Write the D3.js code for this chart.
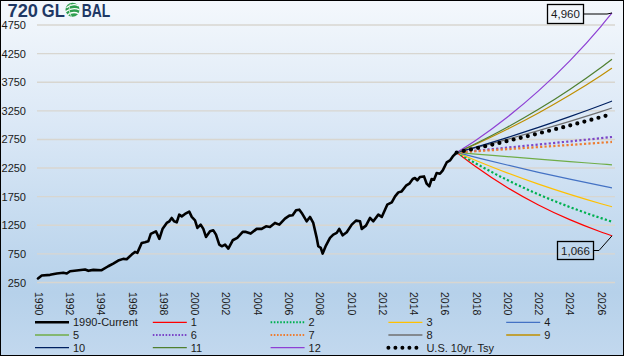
<!DOCTYPE html>
<html><head><meta charset="utf-8">
<script src="https://cdn.jsdelivr.net/npm/d3@7"></script>
<style>html,body{margin:0;padding:0;background:#fff}svg{display:block}</style>
</head><body>
<script>
// ---------- data ----------
const histYears = [1990.00,1990.24,1990.77,1991.20,1991.62,1991.84,1992.05,1992.47,1993.01,1993.22,1993.54,1994.07,1994.49,1994.81,1995.13,1995.45,1995.67,1995.99,1996.20,1996.35,1996.63,1996.84,1997.05,1997.21,1997.54,1997.76,1997.97,1998.23,1998.40,1998.55,1998.70,1998.87,1999.03,1999.19,1999.40,1999.67,1999.83,2000.04,2000.19,2000.40,2000.57,2000.74,2001.00,2001.21,2001.38,2001.59,2001.75,2001.96,2002.17,2002.45,2002.74,2003.09,2003.30,2003.60,2003.98,2004.30,2004.58,2004.83,2005.15,2005.43,2005.79,2006.07,2006.28,2006.50,2006.71,2006.86,2007.18,2007.39,2007.60,2007.82,2007.92,2008.08,2008.20,2008.41,2008.67,2008.88,2009.10,2009.26,2009.48,2009.74,2010.06,2010.33,2010.59,2010.70,2010.97,2011.23,2011.44,2011.76,2011.98,2012.33,2012.62,2012.83,2013.04,2013.25,2013.53,2013.74,2013.96,2014.10,2014.25,2014.42,2014.68,2014.85,2015.02,2015.17,2015.32,2015.49,2015.70,2015.88,2016.13,2016.34,2016.52,2016.77];
const histValues = [320,372,384,407,419,407,447,459,477,454,471,465,534,581,634,663,656,738,785,768,942,953,970,1099,1145,1012,1190,1291,1319,1378,1319,1302,1436,1406,1448,1488,1396,1337,1204,1262,1187,1047,1145,1162,1087,913,883,913,843,988,1030,1134,1134,1105,1187,1187,1232,1221,1291,1262,1366,1418,1424,1511,1523,1466,1319,1396,1291,1030,883,855,756,895,1030,1087,1117,1187,1075,1127,1262,1331,1319,1187,1244,1378,1319,1436,1396,1610,1650,1755,1825,1842,1942,1977,2059,2076,2034,2093,2104,1977,1929,2059,2046,2163,2151,2209,2348,2383,2453,2522];

const projYears = [2016.77, 2018, 2020, 2022, 2024, 2026, 2026.7];
const s1  = [2522, 2272, 1909, 1605, 1348, 1133, 1066];
const s2  = [2522, 2330, 2042, 1790, 1569, 1375, 1313];
const s3  = [2522, 2382, 2165, 1969, 1790, 1627, 1574];
const s4  = [2522, 2438, 2303, 2176, 2056, 1943, 1905];
const s5  = [2522, 2495, 2450, 2406, 2363, 2321, 2306];
const s6  = [2522, 2553, 2607, 2661, 2716, 2773, 2793];
const s7  = [2522, 2544, 2580, 2617, 2654, 2693, 2706];
const s8  = [2522, 2605, 2751, 2904, 3066, 3237, 3299];
const s9  = [2522, 2667, 2927, 3212, 3525, 3868, 3996];
const s10 = [2522, 2617, 2783, 2960, 3148, 3348, 3421];
const s11 = [2522, 2679, 2963, 3277, 3624, 4008, 4152];
const s12 = [2522, 2737, 3138, 3598, 4124, 4728, 4960];
const tsy = [2522, 2595, 2722, 2856, 2995, 3142, 3195];

const seriesNames = ["1990-Current","1","2","3","4","5","6","7","8","9","10","11","12","U.S. 10yr. Tsy"];
const yTicks = [250,750,1250,1750,2250,2750,3250,3750,4250,4750];
const xTicks = [1990,1992,1994,1996,1998,2000,2002,2004,2006,2008,2010,2012,2014,2016,2018,2020,2022,2024,2026];

// ---------- styles ----------
const styles = {
  "1990-Current": {c:"#000000", w:2.6},
  "1": {c:"#ff0000", w:1.2},
  "2": {c:"#00b050", w:2.2, d:"2.2,2.2"},
  "3": {c:"#ffc000", w:1.2},
  "4": {c:"#4472c4", w:1.2},
  "5": {c:"#70ad47", w:1.2},
  "6": {c:"#7b46c8", w:2.2, d:"2.2,2.2"},
  "7": {c:"#ed7d31", w:2.2, d:"2.2,2.2"},
  "8": {c:"#6f6f6f", w:1.2},
  "9": {c:"#bf8f00", w:1.2},
  "10": {c:"#002060", w:1.2},
  "11": {c:"#4f7f2f", w:1.2},
  "12": {c:"#8e40d4", w:1.2},
  "U.S. 10yr. Tsy": {c:"#000000", w:4.2, d:"0,7.3", cap:"round"}
};

const W = 624, H = 356;
const svg = d3.select("body").append("svg").attr("width", W).attr("height", H);

const defs = svg.append("defs");
const grad = defs.append("linearGradient").attr("id","bg").attr("x1",0).attr("y1",0).attr("x2",0).attr("y2",1);
[[0,"#f4f8fc"],[0.35,"#dbe8f6"],[0.6,"#c7dcf0"],[0.82,"#b6d1ea"],[1,"#c2d8ee"]].forEach(s=>grad.append("stop").attr("offset",s[0]).attr("stop-color",s[1]));

svg.append("rect").attr("x",0).attr("y",0).attr("width",W).attr("height",H).attr("fill","url(#bg)");

const x = d3.scaleLinear().domain([1990, 2026.7]).range([38, 612]);
const y = d3.scaleLinear().domain([250, 5000]).range([282.5, 10.7]);

// gridlines
svg.append("g").selectAll("line").data(yTicks).join("line")
  .attr("x1",37).attr("x2",615)
  .attr("y1",d=>y(d)).attr("y2",d=>y(d))
  .attr("stroke","#d8d6d0").attr("stroke-width",1.4);

// y axis
const yAxis = svg.append("g").attr("transform","translate(26,0)")
  .call(d3.axisLeft(y).tickValues(yTicks).tickSize(0).tickPadding(0).tickFormat(d3.format("d")));
yAxis.select(".domain").remove();
yAxis.selectAll("text").attr("font-family","Liberation Sans, Arial, sans-serif").attr("font-size","11px").attr("fill","#1a1a1a");

// x axis
const xAxis = svg.append("g").attr("transform","translate(0,290)")
  .call(d3.axisBottom(x).tickValues(xTicks).tickSize(0).tickFormat(d3.format("d")));
xAxis.select(".domain").remove();
xAxis.selectAll("text")
  .attr("font-family","Liberation Sans, Arial, sans-serif").attr("font-size","10.5px").attr("fill","#1a1a1a")
  .attr("x",2).attr("y",0).attr("dy","0.36em")
  .attr("text-anchor","start").attr("transform","rotate(90)");

// projections
const projSeries = [["1",s1],["2",s2],["3",s3],["4",s4],["5",s5],["6",s6],["7",s7],["8",s8],["9",s9],["10",s10],["11",s11],["12",s12],["U.S. 10yr. Tsy",tsy]];
const projLine = d3.line().x((d,i)=>x(projYears[i])).y(d=>y(d)).curve(d3.curveMonotoneX);
const gP = svg.append("g");
projSeries.forEach(([name, vals])=>{
  const st = styles[name];
  gP.append("path").datum(vals).attr("d", projLine)
    .attr("fill","none").attr("stroke",st.c).attr("stroke-width",st.w)
    .attr("stroke-dasharray", st.d || null).attr("stroke-linecap", st.cap || "butt")
    .attr("stroke-linejoin","round");
});

// history
const histLine = d3.line().x((d,i)=>x(histYears[i])).y(d=>y(d));
svg.append("path").datum(histValues).attr("d", histLine)
  .attr("fill","none").attr("stroke","#000").attr("stroke-width",2.6).attr("stroke-linejoin","round").attr("stroke-linecap","round");

// annotations
const fmt = d3.format(",");
function annot(val, bx, by, bw, bh, elbowX) {
  const px = x(projYears[projYears.length-1]), py = y(val);
  const g = svg.append("g");
  const midY = by + bh/2;
  g.append("polyline").attr("points", `${bx+bw},${midY} ${elbowX},${midY} ${px},${py}`)
    .attr("fill","none").attr("stroke","#000").attr("stroke-width",1);
  g.append("rect").attr("x",bx).attr("y",by).attr("width",bw).attr("height",bh)
    .attr("fill","none").attr("stroke","#000").attr("stroke-width",1.3);
  g.append("text").attr("x",bx+bw/2).attr("y",midY).attr("dy","0.36em").attr("text-anchor","middle")
    .attr("font-family","Liberation Sans, Arial, sans-serif").attr("font-size","11.5px").attr("fill","#1a1a1a")
    .text(fmt(val));
}
annot(s12[s12.length-1], 547.5, 4.5, 36, 19, 607);
annot(s1[s1.length-1], 557.5, 241.5, 36, 18, 599);

// legend
const colW = 117.8;
const legend = svg.append("g");
seriesNames.forEach((name,i)=>{
  const col = i % 5, row = Math.floor(i/5);
  const lx = 35 + col*colW, ly = 322.3 + row*12.7;
  const st = styles[name];
  legend.append("line").attr("x1",lx).attr("x2",lx+34).attr("y1",ly).attr("y2",ly)
    .attr("stroke",st.c).attr("stroke-width", name==="U.S. 10yr. Tsy" ? 4 : (st.d ? 2 : Math.max(st.w, 1.3)))
    .attr("stroke-dasharray", name==="U.S. 10yr. Tsy" ? "0,7" : (st.d ? "1.6,1.6" : null))
    .attr("stroke-linecap", st.cap || "butt");
  legend.append("text").attr("x",lx+38).attr("y",ly).attr("dy","0.36em")
    .attr("font-family","Liberation Sans, Arial, sans-serif").attr("font-size","11px").attr("fill","#1a1a1a")
    .text(name);
});

// logo
const logo = svg.append("g").attr("fill","#1f3864").attr("font-family","Liberation Sans, Arial, sans-serif").attr("font-weight","bold");
logo.append("text").attr("x",7.5).attr("y",16.5).attr("font-size","18px").attr("textLength",30.5).attr("lengthAdjust","spacingAndGlyphs").text("720");
logo.append("text").attr("x",41.8).attr("y",16.5).attr("font-size","18px").attr("textLength",23).attr("lengthAdjust","spacingAndGlyphs").text("GL");
logo.append("text").attr("x",81.8).attr("y",16.5).attr("font-size","18px").attr("textLength",28.5).attr("lengthAdjust","spacingAndGlyphs").text("BAL");
const globe = svg.append("g").attr("transform","translate(72.5,9.8)");
globe.append("circle").attr("r",7).attr("fill","#2e9e4f");
globe.append("path").attr("d","M-6,-2 Q0,-7 6,-4").attr("fill","none").attr("stroke","#fff").attr("stroke-width",1.3);
globe.append("path").attr("d","M-7,2 Q0,-3 7,0").attr("fill","none").attr("stroke","#fff").attr("stroke-width",1.3);
globe.append("path").attr("d","M-5,5 Q1,1 6,4").attr("fill","none").attr("stroke","#fff").attr("stroke-width",1.3);
globe.append("path").attr("d","M-2,-6 Q-5,0 -1,7").attr("fill","none").attr("stroke","#bfe6c8").attr("stroke-width",1);

// border
svg.append("rect").attr("x",0.5).attr("y",0.5).attr("width",W-1).attr("height",H-1).attr("fill","none").attr("stroke","#000").attr("stroke-width",1);
</script>
</body></html>
